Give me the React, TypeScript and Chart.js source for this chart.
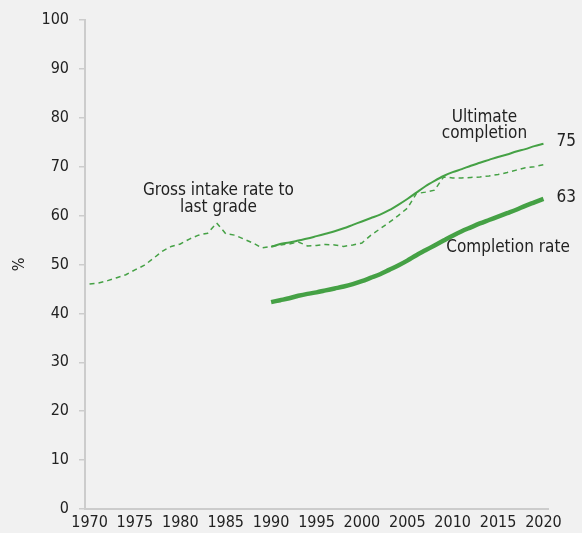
import React, { useEffect, useRef } from "react";
import { Chart, registerables } from "chart.js";

Chart.register(...registerables);

const grossYears = [1970,1971,1972,1973,1974,1975,1976,1977,1978,1979,1980,1981,1982,1983,1984,1985,1986,1987,1988,1989,1990,1991,1992,1993,1994,1995,1996,1997,1998,1999,2000,2001,2002,2003,2004,2005,2006,2007,2008,2009,2010,2011,2012,2013,2014,2015,2016,2017,2018,2019,2020];
const grossIntake = [46.0,46.2,46.7,47.3,47.9,48.9,49.8,51.2,52.7,53.7,54.2,55.2,56.0,56.4,58.5,56.3,56.0,55.2,54.4,53.4,53.7,54.0,54.2,54.6,53.8,53.9,54.1,54.0,53.7,54.0,54.4,56.0,57.3,58.6,60.0,61.5,64.5,64.8,65.2,67.9,67.7,67.7,67.8,67.9,68.1,68.4,68.8,69.3,69.8,70.0,70.4];

const compYears = [1990,1991,1992,1993,1994,1995,1996,1997,1998,1999,2000,2001,2002,2003,2004,2005,2006,2007,2008,2009,2010,2011,2012,2013,2014,2015,2016,2017,2018,2019,2020];
const ultimateCompletion = [53.6,54.2,54.5,54.9,55.3,55.8,56.3,56.8,57.4,58.1,58.8,59.5,60.2,61.1,62.2,63.4,64.7,66.0,67.1,68.1,68.9,69.5,70.2,70.8,71.4,72.0,72.5,73.1,73.6,74.2,74.7];
const completionRate = [42.3,42.7,43.1,43.6,44.0,44.3,44.7,45.1,45.5,46.0,46.6,47.3,48.0,48.9,49.8,50.8,51.9,52.9,53.9,54.9,55.9,56.8,57.6,58.4,59.1,59.8,60.5,61.2,62.0,62.7,63.4];

const xTickLabels = [1970,1975,1980,1985,1990,1995,2000,2005,2010,2015,2020];
const yTickLabels = [0,10,20,30,40,50,60,70,80,90,100];

const GREEN = "#45a145";
const TEXT = "#222222";
const FONT = "'DejaVu Sans Condensed', 'DejaVu Sans', sans-serif";

const annotationPlugin = {
  id: "annots",
  afterDatasetsDraw(chart: any) {
    const { ctx, scales } = chart;
    const x = scales.x;
    const y = scales.y;
    ctx.save();
    ctx.fillStyle = TEXT;
    ctx.textAlign = "center";
    ctx.textBaseline = "middle";
    ctx.font = `17px ${FONT}`;
    // Gross intake label
    ctx.fillText("Gross intake rate to", x.getPixelForValue(1984.2), y.getPixelForValue(65.1));
    ctx.fillText("last grade", x.getPixelForValue(1984.2), y.getPixelForValue(61.6));
    // Ultimate completion label
    ctx.fillText("Ultimate", x.getPixelForValue(2013.5), y.getPixelForValue(80.0));
    ctx.fillText("completion", x.getPixelForValue(2013.5), y.getPixelForValue(76.7));
    // Completion rate label
    ctx.fillText("Completion rate", x.getPixelForValue(2016.1), y.getPixelForValue(53.4));
    // End values
    const lastU = ultimateCompletion[ultimateCompletion.length - 1];
    const lastC = completionRate[completionRate.length - 1];
    ctx.fillText(String(Math.round(lastU)), x.getPixelForValue(2022.5), y.getPixelForValue(75.1));
    ctx.fillText(String(Math.round(lastC)), x.getPixelForValue(2022.5), y.getPixelForValue(63.6));
    ctx.restore();
  },
};

export default function App() {
  const ref = useRef<HTMLCanvasElement | null>(null);
  useEffect(() => {
    if (!ref.current) return;
    const chart = new Chart(ref.current, {
      type: "line",
      data: {
        datasets: [
          {
            label: "Gross intake rate to last grade",
            data: grossYears.map((yr, i) => ({ x: yr, y: grossIntake[i] })),
            borderColor: GREEN,
            borderWidth: 1.5,
            borderDash: [5, 4],
            pointRadius: 0,
            tension: 0,
          },
          {
            label: "Ultimate completion",
            data: compYears.map((yr, i) => ({ x: yr, y: ultimateCompletion[i] })),
            borderColor: GREEN,
            borderWidth: 2,
            pointRadius: 0,
            tension: 0.3,
          },
          {
            label: "Completion rate",
            data: compYears.map((yr, i) => ({ x: yr, y: completionRate[i] })),
            borderColor: GREEN,
            borderWidth: 4.5,
            pointRadius: 0,
            tension: 0.3,
          },
        ],
      },
      options: {
        animation: false,
        responsive: false,
        maintainAspectRatio: false,
        layout: { padding: { top: 20, right: 34, bottom: 0, left: 0 } },
        plugins: { legend: { display: false }, tooltip: { enabled: false } },
        scales: {
          x: {
            type: "linear",
            min: 1969.5,
            max: 2020.5,
            afterBuildTicks: (s: any) => {
              s.ticks = xTickLabels.map((v) => ({ value: v }));
            },
            afterFit: (s: any) => {
              s.height = 24;
            },
            grid: { display: false, drawTicks: false },
            border: { display: true, color: "#cccccc", width: 2 },
            ticks: {
              color: TEXT,
              font: { family: FONT, size: 16 },
              padding: 4,
              maxRotation: 0,
              autoSkip: false,
              callback: (v: any) => String(v),
            },
          },
          y: {
            type: "linear",
            min: 0,
            max: 100,
            afterBuildTicks: (s: any) => {
              s.ticks = yTickLabels.map((v) => ({ value: v }));
            },
            afterFit: (s: any) => {
              s.width = 85;
            },
            grid: { drawOnChartArea: false, drawTicks: true, tickLength: 6, color: "#cccccc", lineWidth: 1.5 },
            border: { display: true, color: "#cccccc", width: 2 },
            title: {
              display: true,
              text: "%",
              color: TEXT,
              font: { family: FONT, size: 16 },
              padding: { top: 10, bottom: 0 },
            },
            ticks: {
              color: TEXT,
              font: { family: FONT, size: 16 },
              padding: 10,
              callback: (v: any) => String(v),
            },
          },
        },
      },
      plugins: [annotationPlugin],
    });
    return () => chart.destroy();
  }, []);
  return (
    <div style={{ position: "fixed", left: 0, top: 0, width: 582, height: 533, background: "#f1f1f1" }}>
      <canvas ref={ref} width={582} height={533} style={{ display: "block", width: 582, height: 533 }} />
    </div>
  );
}
